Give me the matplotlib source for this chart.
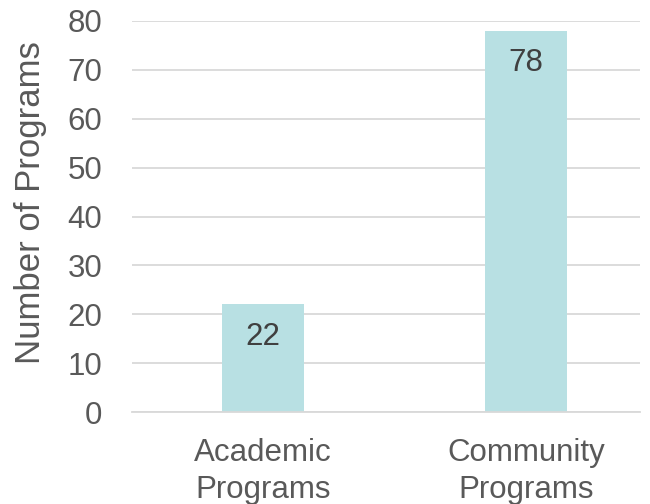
import matplotlib
matplotlib.use("Agg")
import matplotlib.pyplot as plt

categories = ["Academic\nPrograms", "Community\nPrograms"]
values = [22, 78]
yticks = [0, 10, 20, 30, 40, 50, 60, 70, 80]

plt.rcParams['font.family'] = ['Liberation Sans', 'DejaVu Sans']

fig = plt.figure(figsize=(6.5, 5.04), dpi=100)
ax = fig.add_axes([132/650, (504-412)/504, (640-132)/650, (412-21)/504])

x = list(range(len(categories)))
bars = ax.bar(x, values, width=0.312, color="#B8E0E3", zorder=2)
for xi, v in zip(x, values):
    ax.text(xi, v - 6.6, str(v), ha="center", va="center", fontsize=22.5, color="#404040", zorder=3)

ax.set_xlim(-0.498, 1.433)
ax.set_ylim(0, 80)
ax.set_yticks(yticks)
ax.set_yticklabels([str(t) for t in yticks])
ax.set_xticks(x)
ax.set_xticklabels(categories, linespacing=1.27)
ax.tick_params(axis="both", length=0, labelsize=22.5, labelcolor="#595959")
ax.tick_params(axis="y", pad=21.5)
ax.tick_params(axis="x", pad=19)
ax.yaxis.grid(True, color="#D9D9D9", linewidth=1.3, zorder=0)
ax.set_axisbelow(True)
for s in ["top", "right", "left"]:
    ax.spines[s].set_visible(False)
ax.spines["bottom"].set_color("#D9D9D9")
ax.spines["bottom"].set_linewidth(1.3)
ax.set_ylabel("Number of Programs", fontsize=25, color="#595959")
ax.yaxis.set_label_coords(-0.167, 0.535)

fig.savefig("out.png", dpi=100)
